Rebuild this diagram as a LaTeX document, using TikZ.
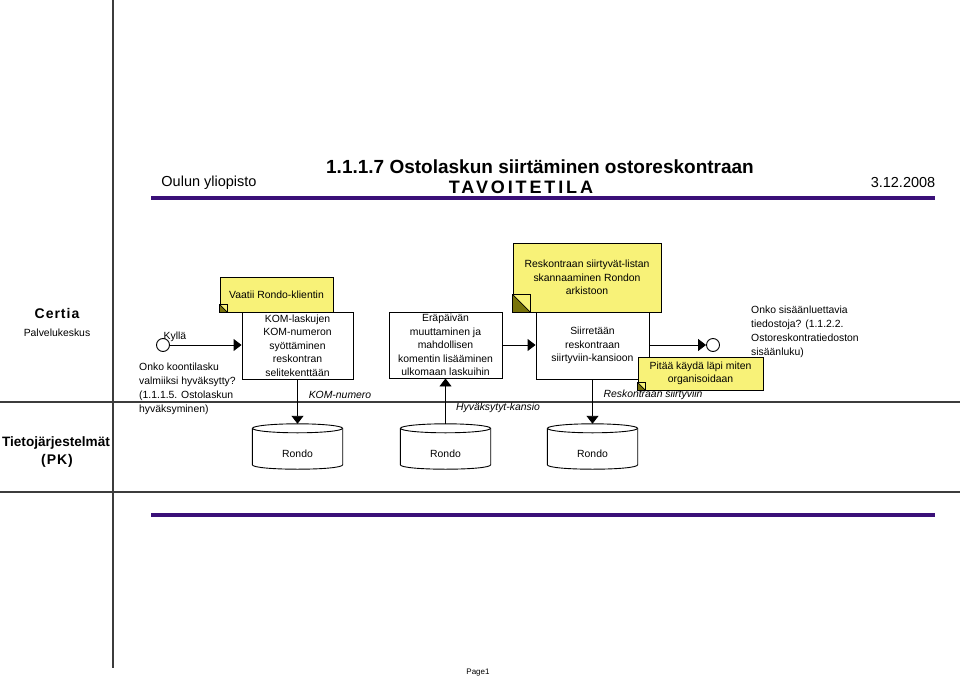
\documentclass[tikz,border=0pt]{standalone}
\usepackage{fontspec}
\setmainfont{Liberation Sans}
\usetikzlibrary{arrows.meta,calc}
\definecolor{noteyellow}{RGB}{248,242,120}
\definecolor{olivecorner}{RGB}{120,115,10}
\definecolor{hdrpurple}{RGB}{58,16,120}
\definecolor{lanegray}{RGB}{60,60,60}
\newcommand\bodyfont{\fontsize{10.4}{13.6}\selectfont}
\newcommand\drumshape[1]{%
  \fill[white] ($(#1.north west)+(0,4.5)$) -- ($(#1.south west)+(0,-4.5)$)
     .. controls ($(#1.south west)+(0,1.5)$) and ($(#1.south east)+(0,1.5)$) .. ($(#1.south east)+(0,-4.5)$)
     -- ($(#1.north east)+(0,4.5)$) -- cycle;
  \draw[line width=0.9pt] ($(#1.north west)+(0,4.5)$) -- ($(#1.south west)+(0,-4.5)$)
     .. controls ($(#1.south west)+(0,1.5)$) and ($(#1.south east)+(0,1.5)$) .. ($(#1.south east)+(0,-4.5)$)
     -- ($(#1.north east)+(0,4.5)$);
  \draw[line width=0.9pt, fill=white] ($(#1.north)+(0,4.5)$) ellipse [x radius=45, y radius=4.5];
}
\newcommand\notecorner[2]{%
  \fill[olivecorner] (#1.south west) -- ++(0,-#2) -- ++(#2,#2) -- cycle;
  \draw[line width=0.7pt] (#1.south west) rectangle ++(#2,-#2);
  \draw[line width=0.7pt] ($(#1.south west)+(0,-#2)$) -- ++(#2,#2);
}
\begin{document}
\begin{tikzpicture}[x=1pt,y=-1pt,
  proc/.style={draw=black, line width=0.9pt, fill=white, inner sep=0pt, align=center, font=\bodyfont},
  note/.style={draw=black, line width=0.9pt, fill=noteyellow, inner sep=0pt, align=center, font=\bodyfont},
  lbl/.style={inner sep=0pt, font=\bodyfont},
  ilbl/.style={inner sep=0pt, font=\bodyfont\itshape},
  flow/.style={line width=0.9pt, -{Triangle[length=8pt,width=12pt]}},
  lane/.style={draw=lanegray, line width=1.3pt},
  hline/.style={draw=hdrpurple, line width=3.5pt},
  event/.style={circle, draw=black, line width=0.9pt, fill=white, minimum size=13pt, inner sep=0pt},
  drum/.style={minimum width=90pt, minimum height=45pt, inner sep=0pt},
  lanetitle/.style={inner sep=0pt, font=\fontsize{14}{16}\selectfont\bfseries\addfontfeature{LetterSpace=7}},
  lanetitlenarrow/.style={inner sep=0pt, font=\fontsize{13.6}{16}\selectfont\bfseries}
]
\useasboundingbox (0,0) rectangle (960,679);
\fill[white] (0,0) rectangle (960,679);

% lanes
\draw[lane] (113,0) -- (113,668);
\draw[lane] (0,402) -- (960,402);
\draw[lane] (0,492) -- (960,492);

% header
\draw[hline] (151,198) -- (935,198);
\draw[hline] (151,515) -- (935,515);
\node[inner sep=0pt, font=\fontsize{14.5}{16}\selectfont] (org) at (209,183) {Oulun yliopisto};
\node[inner sep=0pt, font=\fontsize{19}{22}\selectfont\bfseries] (title) at (540,167) {1.1.1.7 Ostolaskun siirtäminen ostoreskontraan};
\node[inner sep=0pt, font=\fontsize{18}{22}\selectfont\bfseries\addfontfeature{LetterSpace=16}] (state) at (521,187) {TAVOITETILA};
\node[inner sep=0pt, font=\fontsize{14.5}{16}\selectfont] (date) at (903,183) {3.12.2008};

% lane labels
\node[lanetitle] (certia) at (57,313) {Certia};
\node[lbl] (pk) at (57,333) {Palvelukeskus};
\node[lanetitlenarrow] (tj) at (56,443) {Tietojärjestelmät};
\node[lanetitle] (pkk) at (57,461) {(PK)};

% events
\node[event] (start) at (163,345) {};
\node[event] (end) at (713,345) {};
\node[lbl] (kylla) at (175,337) {Kyllä};
\node[lbl, anchor=north west, align=left, font=\fontsize{10.4}{13.8}\selectfont] (q1) at (139,363) {Onko koontilasku\\valmiiksi hyväksytty?\\(1.1.1.5. Ostolaskun\\hyväksyminen)};
\node[lbl, anchor=north west, align=left, font=\fontsize{10.4}{13.8}\selectfont] (q2) at (751,306) {Onko sisäänluettavia\\tiedostoja? (1.1.2.2.\\Ostoreskontratiedoston\\sisäänluku)};

% notes behind boxes
\node[note, minimum width=113pt, minimum height=35pt] (n1) at (276.5,294.5) {Vaatii Rondo-klientin};
\notecorner{n1}{8}
\node[note, minimum width=148pt, minimum height=69pt] (n2) at (587,277.5) {Reskontraan siirtyvät-listan\\skannaaminen Rondon\\arkistoon};
\notecorner{n2}{18}

% process boxes
\node[proc, minimum width=111pt, minimum height=67pt] (b1) at (297.5,345.5) {KOM-laskujen\\KOM-numeron\\syöttäminen\\reskontran\\selitekenttään};
\node[proc, minimum width=113pt, minimum height=66pt] (b2) at (445.5,345) {Eräpäivän\\muuttaminen ja\\mahdollisen\\komentin lisääminen\\ulkomaan laskuihin};
\node[proc, minimum width=113pt, minimum height=67pt] (b3) at (592.5,345.5) {Siirretään\\reskontraan\\siirtyviin-kansioon};

% data stores
\node[drum] (r1) at (297.5,446.5) {};
\node[drum] (r2) at (445.5,446.5) {};
\node[drum] (r3) at (592.5,446.5) {};
\drumshape{r1}
\drumshape{r2}
\drumshape{r3}
\node[lbl] (r1t) at (297.5,454) {Rondo};
\node[lbl] (r2t) at (445.5,454) {Rondo};
\node[lbl] (r3t) at (592.5,454) {Rondo};

% flows
\draw[flow] (start.east) -- (start -| b1.west);
\draw[flow] (b1.south) -- (r1.north);
\draw[flow] (r2.north) -- (b2.south);
\draw[flow] (b2.east) -- (b2.east -| b3.west);
\draw[flow] (b3.south) -- (r3.north);
\draw[flow] (b3.east |- end) -- (end.west);

% flow labels
\node[ilbl] (l1) at (340,395) {KOM-numero};
\node[ilbl] (l2) at (498,408) {Hyväksytyt-kansio};
\node[ilbl] (l3) at (653,395) {Reskontraan siirtyviin};

% note on top of box 3
\node[note, minimum width=125pt, minimum height=33pt] (n3) at (700.5,373.5) {Pitää käydä läpi miten\\organisoidaan};
\notecorner{n3}{8}

\node[inner sep=0pt, font=\fontsize{8}{9}\selectfont] (page) at (478,673) {Page1};
\end{tikzpicture}
\end{document}
